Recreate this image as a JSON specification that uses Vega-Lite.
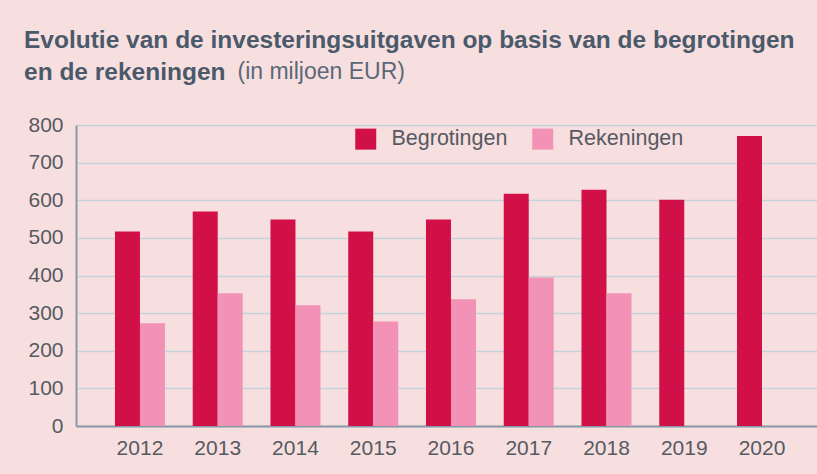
{
  "$schema": "https://vega.github.io/schema/vega-lite/v6.json",
  "width": 741,
  "height": 301,
  "autosize": {"type": "none"},
  "padding": {"left": 76, "top": 125, "right": 0, "bottom": 48},
  "background": "#f8dfdf",
  "title": {
    "text": ["Evolutie van de investeringsuitgaven op basis van de begrotingen", "en de rekeningen"],
    "anchor": "start",
    "frame": "group",
    "dx": -52,
    "offset": -25,
    "font": "Liberation Sans",
    "fontSize": 24.5,
    "fontWeight": "bold",
    "color": "#4a5a6a",
    "lineHeight": 32
  },
  "data": {
    "values": [
      {"jaar": "2012", "reeks": "Begrotingen", "waarde": 517},
      {"jaar": "2012", "reeks": "Rekeningen", "waarde": 273},
      {"jaar": "2013", "reeks": "Begrotingen", "waarde": 570},
      {"jaar": "2013", "reeks": "Rekeningen", "waarde": 353},
      {"jaar": "2014", "reeks": "Begrotingen", "waarde": 549},
      {"jaar": "2014", "reeks": "Rekeningen", "waarde": 321},
      {"jaar": "2015", "reeks": "Begrotingen", "waarde": 517},
      {"jaar": "2015", "reeks": "Rekeningen", "waarde": 278},
      {"jaar": "2016", "reeks": "Begrotingen", "waarde": 549},
      {"jaar": "2016", "reeks": "Rekeningen", "waarde": 337},
      {"jaar": "2017", "reeks": "Begrotingen", "waarde": 617},
      {"jaar": "2017", "reeks": "Rekeningen", "waarde": 395},
      {"jaar": "2018", "reeks": "Begrotingen", "waarde": 628},
      {"jaar": "2018", "reeks": "Rekeningen", "waarde": 353},
      {"jaar": "2019", "reeks": "Begrotingen", "waarde": 601},
      {"jaar": "2020", "reeks": "Begrotingen", "waarde": 771}
    ]
  },
  "mark": {"type": "bar"},
  "encoding": {
    "x": {
      "field": "jaar",
      "type": "ordinal",
      "scale": {"paddingInner": 0.357, "paddingOuter": 0.4435, "align": 0.565},
      "axis": {
        "title": null,
        "labelAngle": 0,
        "labelFont": "Liberation Sans",
        "labelFontSize": 21,
        "labelColor": "#555a62",
        "labelPadding": 11,
        "ticks": false,
        "domainColor": "#8a98a6",
        "domainWidth": 2,
        "grid": false
      }
    },
    "xOffset": {"field": "reeks", "type": "nominal", "sort": ["Begrotingen", "Rekeningen"]},
    "y": {
      "field": "waarde",
      "type": "quantitative",
      "scale": {"domain": [0, 800], "nice": false},
      "axis": {
        "values": [0, 100, 200, 300, 400, 500, 600, 700, 800],
        "title": "(in miljoen EUR)",
        "titleAngle": 0,
        "titleAlign": "left",
        "titleBaseline": "alphabetic",
        "titleX": 161,
        "titleY": -47,
        "titleFont": "Liberation Sans",
        "titleFontSize": 23,
        "titleFontWeight": "normal",
        "titleColor": "#5a6878",
        "labelFont": "Liberation Sans",
        "labelFontSize": 21,
        "labelColor": "#555a62",
        "labelPadding": 13,
        "ticks": false,
        "domainColor": "#8a98a6",
        "domainWidth": 2,
        "gridColor": "#c3d2dc",
        "gridWidth": 1.5
      }
    },
    "color": {
      "field": "reeks",
      "type": "nominal",
      "scale": {"domain": ["Begrotingen", "Rekeningen"], "range": ["#d21048", "#f292b7"]},
      "legend": {
        "title": null,
        "orient": "none",
        "direction": "horizontal",
        "legendX": 279,
        "legendY": 3,
        "padding": 0,
        "symbolType": "square",
        "symbolSize": 441,
        "symbolStrokeWidth": 0,
        "labelFont": "Liberation Sans",
        "labelFontSize": 21.5,
        "labelColor": "#555a62",
        "labelOffset": 15,
        "columnPadding": 24
      }
    }
  },
  "config": {
    "view": {"stroke": null}
  }
}
